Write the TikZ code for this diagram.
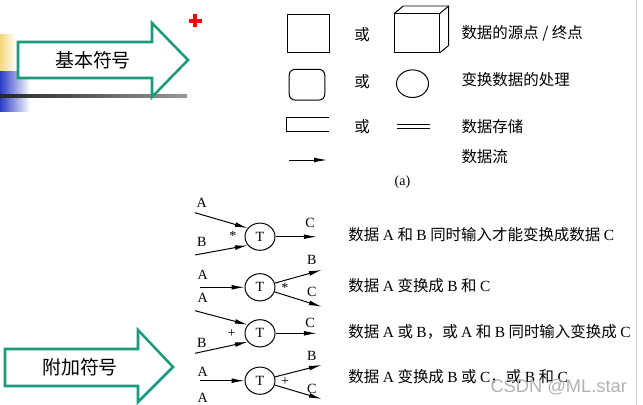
\documentclass[tikz,border=0pt]{standalone}
\usepackage{fontspec}
\setmainfont{Liberation Serif}
\newfontfamily\cjk{Noto Sans CJK SC}
\newfontfamily\wmark{Liberation Sans}
\definecolor{symteal}{HTML}{1B9A7C}
\usepackage{tikz}
\usetikzlibrary{arrows.meta,calc,shapes.geometric}
\newcommand\la[1]{{\rmfamily #1}}
\tikzset{
  bigarrow/.style={draw=symteal, fill=white, line width=1.8pt, line join=miter},
  flow/.style={-{Latex[length=3.2mm,width=1.2mm]}, line width=0.7pt},
  proc/.style={ellipse, draw, line width=0.7pt, minimum width=0.75cm,
    minimum height=0.68cm, inner sep=0pt, font=\fontsize{10}{12}\selectfont},
  lbl/.style={inner sep=0pt, font=\fontsize{10}{12}\selectfont},
  orword/.style={inner sep=0pt, font=\cjk\fontsize{11}{13}\selectfont},
  desc/.style={anchor=west, inner sep=0pt, font=\cjk\fontsize{11}{13}\selectfont},
}

\begin{document}
\begin{tikzpicture}[x=0.025cm, y=-0.025cm, line width=0.7pt]
\definecolor{stripyel}{HTML}{F6D77A}\definecolor{stripblue}{HTML}{2B3BC4}
\useasboundingbox (0,0) rectangle (643,405);
% slide decorations
\shade[left color=stripyel, right color=white] (0,35) rectangle (16,72);
\shade[left color=stripblue, right color=white] (0,72) rectangle (30,112);
\shade[left color=black!85, right color=black!40] (0,94.5) rectangle (187,97.5);
\fill[red] (193,14.5) rectangle (197,27.5);
\fill[red] (188.5,19) rectangle (201.5,23);
\draw[black!20, line width=0.6pt] (636,0) -- (636,405);
% big arrows
\draw[bigarrow] (18,42) -- (152,42) -- (152,23) -- (188,60) -- (152,97) -- (152,78) -- (18,78) -- cycle;
\node[font=\cjk\fontsize{13.5}{15}\selectfont] (basic) at (93,60) {基本符号};
\draw[bigarrow] (5,349) -- (138,349) -- (138,330) -- (173,367) -- (138,402) -- (138,386) -- (5,386) -- cycle;
\node[font=\cjk\fontsize{13.5}{15}\selectfont] (extra) at (80,367) {附加符号};

% (a) basic symbols
\node[draw, minimum width=1.05cm, minimum height=0.925cm] (src) at (308,33.5) {};
\node[orword] (or1) at (362,35) {或};
\node[draw, minimum width=1.11cm, minimum height=0.96cm] (cube) at (417,33.2) {};
\draw (cube.north west) -- ++(9,-7.5) -| ($(cube.south east)+(9,-7.5)$) -- (cube.south east);
\draw (cube.north east) -- ++(9,-7.5);
\node[desc] (srctxt) at (461,33) {数据的源点 / 终点};

\node[draw, rounded corners=0.15cm, minimum width=0.89cm, minimum height=0.77cm] (rnd) at (307,84.7) {};
\node[orword] (or2) at (362,82) {或};
\node[draw, ellipse, minimum width=0.8cm, minimum height=0.69cm] (circ) at (412.5,83.7) {};
\node[desc] (proctxt) at (461,80) {变换数据的处理};

\draw (329.3,117.3) -| (286,131.7) -- (329.3,131.7);
\node[orword] (or3) at (362,127) {或};
\draw (397,124) -- (430,124);
\draw (397,128) -- (430,128);
\node[desc] (storetxt) at (461,127) {数据存储};

\coordinate (fa) at (289,160);
\coordinate (fb) at (327,160);
\draw[flow] (fa) -- (fb);
\node[desc] (flowtxt) at (461,157) {数据流};
\node[inner sep=0pt, font=\fontsize{10}{12}\selectfont] (cap) at (402.5,182) {(a)};

% additional symbols
\node[proc] (t1) at (260,236.7) {T};
\coordinate (a1) at (195,212.7);
\coordinate (b1) at (195,255);
\coordinate (c1) at (316.7,236.7);
\draw[flow] (a1) -- (t1.145);
\draw[flow] (b1) -- (t1.215);
\draw[flow] (t1) -- (c1);
\node[lbl] (la1) at (201.7,202.7) {A};
\node[lbl] (lb1) at (201.7,241.7) {B};
\node[lbl] (lc1) at (310,223) {C};
\node[lbl] (op1) at (233,236) {*};
\node[desc] (d1) at (348,235) {数据 \la{A} 和 \la{B} 同时输入才能变换成数据 \la{C}};

\node[proc] (t2) at (260,287.3) {T};
\coordinate (a2) at (200,287.3);
\coordinate (b2) at (321.7,270);
\coordinate (c2) at (321.7,306.7);
\draw[flow] (a2) -- (t2);
\draw[flow] (t2) -- (b2);
\draw[flow] (t2) -- (c2);
\node[lbl] (la2) at (202.7,275) {A};
\node[lbl] (lb2) at (311.7,260) {B};
\node[lbl] (lc2) at (311.7,291.7) {C};
\node[lbl] (op2) at (285,288.3) {*};
\node[desc] (d2) at (348,286) {数据 \la{A} 变换成 \la{B} 和 \la{C}};

\node[proc] (t3) at (260,333.3) {T};
\coordinate (a3) at (195,310.7);
\coordinate (b3) at (195,353.3);
\coordinate (c3) at (316.7,333.3);
\draw[flow] (a3) -- (t3.145);
\draw[flow] (b3) -- (t3.215);
\draw[flow] (t3) -- (c3);
\node[lbl] (la3) at (202.7,298) {A};
\node[lbl] (lb3) at (201.7,343.3) {B};
\node[lbl] (lc3) at (310,323.3) {C};
\node[lbl] (op3) at (231.7,334) {+};
\node[desc] (d3) at (348,331.7) {数据 \la{A} 或 \la{B}，或 \la{A} 和 \la{B} 同时输入变换成 \la{C}};

\node[proc] (t4) at (260,380.7) {T};
\coordinate (a4) at (200,380.7);
\coordinate (b4) at (321.7,365);
\coordinate (c4) at (321.7,399);
\draw[flow] (a4) -- (t4);
\draw[flow] (t4) -- (b4);
\draw[flow] (t4) -- (c4);
\node[lbl] (la4) at (202.7,371.7) {A};
\node[lbl] (la4b) at (202.7,397.5) {A};
\node[lbl] (lb4) at (311.7,355.7) {B};
\node[lbl] (lc4) at (311.7,389) {C};
\node[lbl] (op4) at (285,381.7) {+};
\node[desc] (d4) at (348,376.7) {数据 \la{A} 变换成 \la{B} 或 \la{C}，或 \la{B} 和 \la{C}};

\node[anchor=west, inner sep=0pt, text=black!30, font=\wmark\fontsize{13}{15}\selectfont] (wm) at (490,386.7) {CSDN @ML.star};
\end{tikzpicture}
\end{document}
